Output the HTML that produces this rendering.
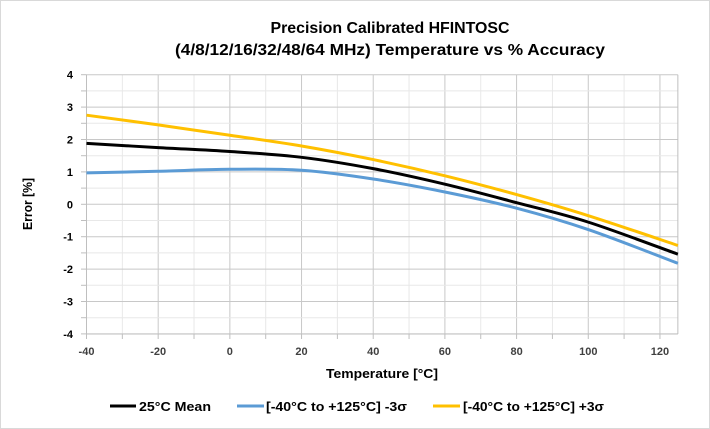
<!DOCTYPE html>
<html><head><meta charset="utf-8"><style>
body{margin:0;background:#fff}
svg{display:block;font-family:"Liberation Sans",Arial,sans-serif}
</style></head><body>
<svg id="s" width="710" height="429" viewBox="0 0 710 429">
<rect x="0.5" y="0.5" width="709" height="428" fill="#fff" stroke="#d9d9d9"/>
<text x="390" y="33" text-anchor="middle" font-size="16" font-weight="bold" fill="#000" textLength="239" lengthAdjust="spacingAndGlyphs">Precision Calibrated HFINTOSC</text>
<text x="390" y="55" text-anchor="middle" font-size="16" font-weight="bold" fill="#000" textLength="430" lengthAdjust="spacingAndGlyphs">(4/8/12/16/32/48/64 MHz) Temperature vs % Accuracy</text>
<g id="grid"></g>
<g id="series"></g>
<text transform="translate(32,204) rotate(-90)" text-anchor="middle" font-size="13" font-weight="bold" textLength="52" lengthAdjust="spacingAndGlyphs">Error [%]</text>
<text x="382" y="378" text-anchor="middle" font-size="13" font-weight="bold" textLength="112" lengthAdjust="spacingAndGlyphs">Temperature [°C]</text>
<g font-size="13" font-weight="bold">
<line x1="110" y1="406" x2="136" y2="406" stroke="#000" stroke-width="3"/>
<text x="139" y="411" textLength="72" lengthAdjust="spacingAndGlyphs">25°C Mean</text>
<line x1="237" y1="406" x2="264" y2="406" stroke="#5b9bd5" stroke-width="3"/>
<text x="266" y="411" textLength="141" lengthAdjust="spacingAndGlyphs">[-40°C to +125°C]  -3σ</text>
<line x1="433" y1="406" x2="460" y2="406" stroke="#ffc000" stroke-width="3"/>
<text x="463" y="411" textLength="141" lengthAdjust="spacingAndGlyphs">[-40°C to +125°C] +3σ</text>
</g>
</svg>
<script>
var X=t=>86.5+(t+40)*3.584, Y=v=>204.3-v*32.4;
var g='';
for(var t=-40;t<=120;t+=10){var maj=t%20==0;g+=`<line x1="${X(t)}" y1="74.7" x2="${X(t)}" y2="334" stroke="${maj?'#c8c8c8':'#e8e8e8'}"/>`;
 g+=`<line x1="${X(t)}" y1="334" x2="${X(t)}" y2="339" stroke="#bfbfbf"/>`;
 if(maj)g+=`<text x="${X(t)}" y="355" text-anchor="middle" font-size="11" font-weight="bold" fill="#404040">${t}</text>`;}
for(var v=-4;v<=4;v+=0.5){var maj=v%1==0;g+=`<line x1="86.5" y1="${Y(v)}" x2="${X(125)}" y2="${Y(v)}" stroke="${maj?'#c8c8c8':'#e8e8e8'}"/>`;
 g+=`<line x1="81" y1="${Y(v)}" x2="86.5" y2="${Y(v)}" stroke="#bfbfbf"/>`;
 if(maj)g+=`<text x="73" y="${Y(v)+4}" text-anchor="end" font-size="11" font-weight="bold" fill="#000">${v}</text>`;}
g+=`<line x1="86.5" y1="74.7" x2="86.5" y2="334" stroke="#bfbfbf"/><line x1="${X(125)}" y1="74.7" x2="${X(125)}" y2="334" stroke="#bfbfbf"/><line x1="86.5" y1="334" x2="${X(125)}" y2="334" stroke="#bfbfbf"/>`;
document.getElementById('grid').innerHTML=g;
var T=[-40,-20,0,20,40,60,80,100,125];
var D=[["#5b9bd5",[0.97,1.02,1.08,1.05,0.78,0.38,-0.12,-0.78,-1.82]],
["#ffc000",[2.75,2.45,2.13,1.8,1.38,0.88,0.3,-0.35,-1.27]],
["#000",[1.88,1.75,1.63,1.45,1.1,0.62,0.05,-0.55,-1.54]]];
var s='';
D.forEach(function(d){var p=T.map((t,i)=>[X(t),Y(d[1][i])]);var path='M'+p[0];
 for(var i=0;i<p.length-1;i++){var p0=p[Math.max(i-1,0)],p1=p[i],p2=p[i+1],p3=p[Math.min(i+2,p.length-1)];
 var c1=[p1[0]+(p2[0]-p0[0])/6,p1[1]+(p2[1]-p0[1])/6],c2=[p2[0]-(p3[0]-p1[0])/6,p2[1]-(p3[1]-p1[1])/6];
 path+=' C'+c1+' '+c2+' '+p2;}
 s+=`<path d="${path}" fill="none" stroke="${d[0]}" stroke-width="3"/>`;});
document.getElementById('series').innerHTML=s;
</script>
</body></html>
